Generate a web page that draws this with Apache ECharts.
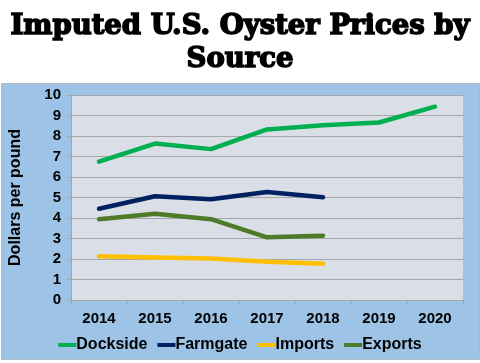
<!DOCTYPE html>
<html><head><meta charset="utf-8">
<script src="https://cdn.jsdelivr.net/npm/echarts@6/dist/echarts.min.js"></script>
<style>html,body{margin:0;padding:0;background:#fff}#c{width:480px;height:363px}</style>
</head><body><div id="c"></div>
<script>
const years = ['2014','2015','2016','2017','2018','2019','2020'];
const dockside = [6.75, 7.63, 7.36, 8.32, 8.52, 8.66, 9.43];
const farmgate = [4.45, 5.06, 4.91, 5.27, 5.01, null, null];
const imports = [2.13, 2.07, 2.03, 1.87, 1.77, null, null];
const exports_ = [3.94, 4.21, 3.94, 3.06, 3.14, null, null];
const yTicks = [0,1,2,3,4,5,6,7,8,9,10];

const chart = echarts.init(document.getElementById('c'), null, {renderer:'canvas'});
const lbl = {fontFamily:'Liberation Sans, Arial, sans-serif', fontWeight:'bold', color:'#000'};
function line(name, data, color){
  return {name, type:'line', data, symbol:'none', connectNulls:false,
    lineStyle:{color, width:4.5, cap:'round', join:'round'}, itemStyle:{color}};
}
chart.setOption({
  backgroundColor:'#ffffff',
  animation:false,
  title:{text:'Imputed U.S. Oyster Prices by\nSource', left:'center', top:5,
    textStyle:{fontFamily:'DejaVu Serif', fontWeight:900, fontSize:27.5, lineHeight:33, color:'#000',
      textBorderColor:'#000', textBorderWidth:1.6}},
  graphic:[{type:'rect', z:-10, shape:{x:1.5,y:83.5,width:478,height:276},
    style:{fill:'#9dc3e6', stroke:'#b0b8c4', lineWidth:1}}],
  grid:{left:69, right:17, top:95, bottom:63, show:true, backgroundColor:'#d9dee7', borderWidth:0},
  legend:{bottom:5, left:'center', itemWidth:18, itemHeight:4, itemGap:10, icon:'rect',
    textStyle:Object.assign({fontSize:16, padding:[0,0,0,-5]}, lbl),
    data:['Dockside','Farmgate','Imports','Exports']},
  xAxis:{type:'category', data:years, boundaryGap:true,
    axisLine:{lineStyle:{color:'#a6a6a6'}}, axisTick:{show:true, length:4, lineStyle:{color:'#a6a6a6'}},
    axisLabel:Object.assign({fontSize:15, margin:11}, lbl)},
  yAxis:{type:'value', min:0, max:10, interval:1,
    name:'Dollars per pound', nameLocation:'middle', nameGap:47, nameRotate:90,
    nameTextStyle:Object.assign({fontSize:16}, lbl),
    axisLine:{show:true, lineStyle:{color:'#a6a6a6'}}, axisTick:{show:true, length:4, lineStyle:{color:'#a6a6a6'}},
    splitLine:{lineStyle:{color:'#a6a6a6', width:1}},
    axisLabel:Object.assign({fontSize:15, margin:10, formatter:v=>yTicks.includes(v)?String(v):''}, lbl)},
  series:[
    line('Dockside', dockside, '#00b050'),
    line('Farmgate', farmgate, '#002060'),
    line('Imports', imports, '#ffc000'),
    line('Exports', exports_, '#4f7a28')
  ]
});
</script></body></html>
